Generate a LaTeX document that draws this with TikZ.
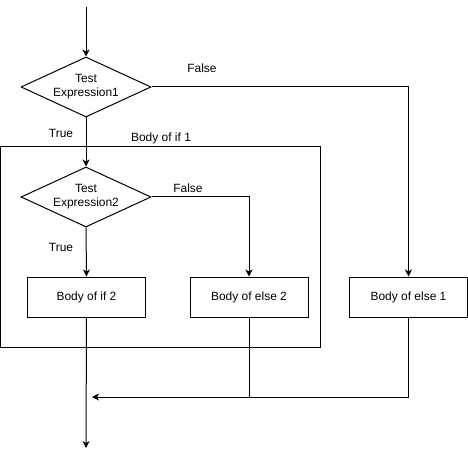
\documentclass[tikz,border=0pt]{standalone}
\usepackage{fontspec}
\setmainfont{Liberation Sans}
\usetikzlibrary{shapes.geometric,arrows.meta}
\begin{document}
\begin{tikzpicture}[x=1bp,y=-1bp,
  every node/.style={font=\fontsize{12}{14}\selectfont},
  dec/.style={draw, diamond, aspect=2.17, minimum width=130bp, minimum height=60bp, inner sep=0pt, align=center, line width=1bp},
  blk/.style={draw, rectangle, minimum width=118bp, minimum height=40bp, inner sep=0pt, line width=1bp},
  lbl/.style={inner sep=0pt},
  conn/.style={line width=1bp, -{Stealth[length=7bp,width=7bp,inset=2bp]}},
  wire/.style={line width=1bp}]
\useasboundingbox (0,0) rectangle (468,456);
\node[draw, line width=1bp, minimum width=319bp, minimum height=200bp, inner sep=0pt] (if1) at (160.5,247) {};
\node[lbl] (if1lbl) at (161,138) {Body of if 1};
\coordinate (start) at (86,7);
\node[dec] (d1) at (86,87) {Test\\Expression1};
\node[dec] (d2) at (86,197) {Test\\Expression2};
\node[blk] (if2) at (86.5,297) {Body of if 2};
\node[blk] (else2) at (249,297) {Body of else 2};
\node[blk] (else1) at (408.5,297) {Body of else 1};
\coordinate (jn) at (92,397);
\coordinate (end) at (86,448);
\node[lbl] (f1) at (202,68) {False};
\node[lbl] (t1) at (61,133) {True};
\node[lbl] (f2) at (188,188) {False};
\node[lbl] (t2) at (61,247) {True};
\draw[conn] (start) -- (d1.north);
\draw[conn] (d1.south) -- (d2.north);
\draw[conn] (d1.east) -| (else1.north);
\draw[conn] (d2.east) -| (else2.north);
\draw[conn] (d2.south) -- (if2.north);
\draw[conn] (if2.south) -- (end);
\draw[conn] (else1.south) |- (jn);
\draw[wire] (else2.south) -- (else2.south |- jn);
\end{tikzpicture}
\end{document}
